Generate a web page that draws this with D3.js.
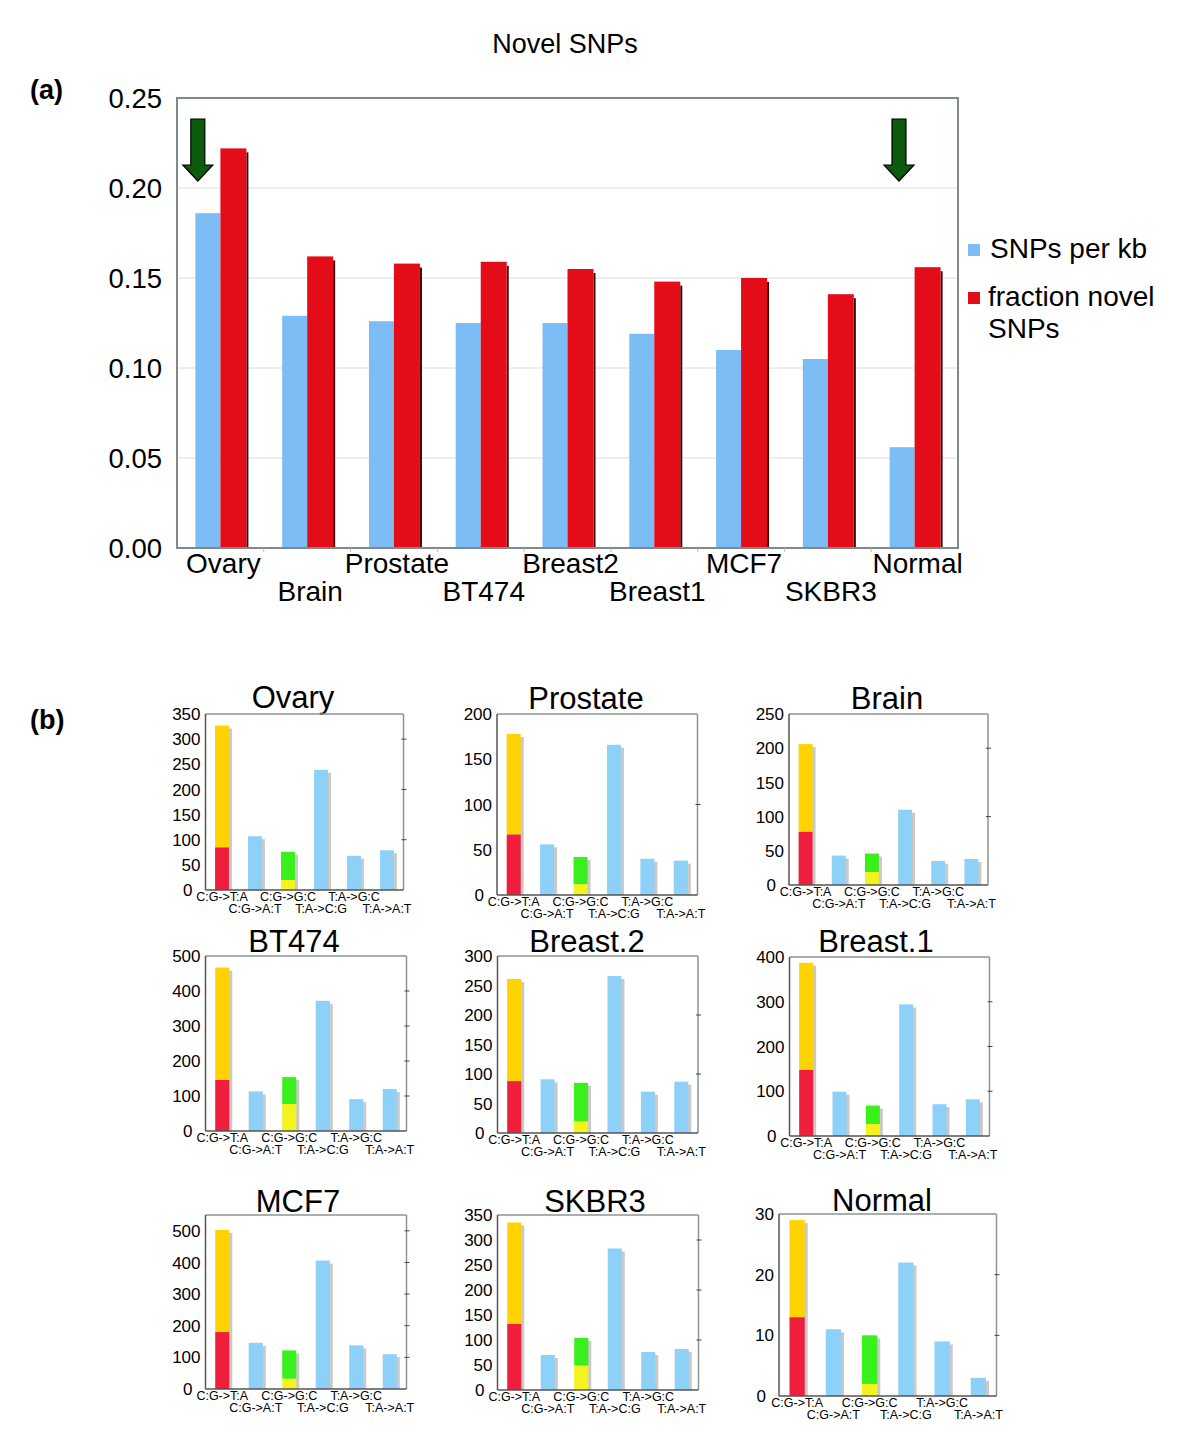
<!DOCTYPE html>
<html><head><meta charset="utf-8">
<script src="https://cdn.jsdelivr.net/npm/d3@7"></script>
<style>body{margin:0;background:#fff;} svg{font-family:"Liberation Sans",Arial,Helvetica,sans-serif;}</style>
</head><body><svg id="c" width="1200" height="1436"></svg>
<script>
// ---------- data: panel (a) ----------
const samples = ["Ovary","Brain","Prostate","BT474","Breast2","Breast1","MCF7","SKBR3","Normal"];
const snpsPerKb = [0.186,0.129,0.126,0.125,0.125,0.119,0.110,0.105,0.056];
const fractionNovel = [0.222,0.162,0.158,0.159,0.155,0.148,0.150,0.141,0.156];
const topTicks = [0,0.05,0.10,0.15,0.20,0.25];
const topTickLabels = ["0.00","0.05","0.10","0.15","0.20","0.25"];
const arrowSamples = ["Ovary","Normal"];
const legendLabels = ["SNPs per kb","fraction novel SNPs"];

// ---------- data: panel (b) ----------
const mutationTypes = ["C:G->T:A","C:G->A:T","C:G->G:C","T:A->C:G","T:A->G:C","T:A->A:T"];
const panelNames = ["Ovary","Prostate","Brain","BT474","Breast.2","Breast.1","MCF7","SKBR3","Normal"];
const panelTotals = [
  [327,107,76,239,68,79],
  [178,56,42,166,40,38],
  [206,43,46,110,35,38],
  [467,113,154,372,91,120],
  [261,91,85,266,70,87],
  [387,99,68,294,71,82],
  [503,146,122,406,138,110],
  [335,70,104,283,76,82],
  [29,11,10,22,9,3]
];
const lowerCT = [85,67,78,146,88,148,180,132,13];   // red part of C:G->T:A
const lowerCG = [20,12,19,77,20,27,33,49,2];        // yellow part of C:G->G:C
const panelMax = [350,200,250,500,300,400,550,350,30];
const panelTickStep = [50,50,50,100,50,100,100,50,10];
const panelRightStep = [100,100,100,100,100,100,100,100,10];

// ---------- drawing ----------
const svg = d3.select("#c");
const C = {blue:"#7cbdf6", red:"#e50c19", lblue:"#8dd0f8", pred:"#f01e3c", orange:"#ffd300",
           green:"#3af01c", yellow:"#f3f31e", shadow:"#c9c9c9", arrow:"#0b5a0e"};

svg.append("text").attr("x",565).attr("y",53).attr("text-anchor","middle")
  .attr("font-size",27).text("Novel SNPs");
svg.append("text").attr("x",30).attr("y",99).attr("font-size",27).attr("font-weight","bold").text("(a)");
svg.append("text").attr("x",30).attr("y",729).attr("font-size",27).attr("font-weight","bold").text("(b)");

// panel (a)
const A = {x0:177, x1:958, y0:98, y1:548};
const xa = d3.scaleBand().domain(samples).range([A.x0, A.x1]);
const ya = d3.scaleLinear().domain([0,0.25]).range([A.y1, A.y0]);
const ga = svg.append("g");
ga.selectAll("line.grid").data(topTicks.slice(1,-1)).join("line")
  .attr("x1",A.x0).attr("x2",A.x1).attr("y1",d=>ya(d)).attr("y2",d=>ya(d))
  .attr("stroke","#dcdcdc").attr("stroke-width",1);
ga.selectAll("text.yt").data(topTicks).join("text")
  .attr("x",A.x0-15).attr("y",d=>ya(d)).attr("dy","0.36em").attr("text-anchor","end")
  .attr("font-size",27.5).text((d,i)=>topTickLabels[i]);
const bwA = xa.bandwidth();
ga.selectAll("rect.b").data(samples).join("rect")
  .attr("x",d=>xa(d)+bwA/2-25).attr("width",25)
  .attr("y",(d,i)=>ya(snpsPerKb[i])).attr("height",(d,i)=>ya(0)-ya(snpsPerKb[i]))
  .attr("fill",C.blue);
ga.selectAll("rect.rs").data(samples).join("rect")
  .attr("x",d=>xa(d)+bwA/2+26).attr("width",2)
  .attr("y",(d,i)=>ya(fractionNovel[i])+4).attr("height",(d,i)=>ya(0)-ya(fractionNovel[i])-4)
  .attr("fill","#3a0000");
ga.selectAll("rect.r").data(samples).join("rect")
  .attr("x",d=>xa(d)+bwA/2).attr("width",26)
  .attr("y",(d,i)=>ya(fractionNovel[i])).attr("height",(d,i)=>ya(0)-ya(fractionNovel[i]))
  .attr("fill",C.red);
ga.append("rect").attr("x",A.x0).attr("y",A.y0).attr("width",A.x1-A.x0).attr("height",A.y1-A.y0)
  .attr("fill","none").attr("stroke","#7d8b8b").attr("stroke-width",2);
ga.selectAll("line.xt").data(samples.slice(1)).join("line")
  .attr("x1",d=>xa(d)).attr("x2",d=>xa(d)).attr("y1",A.y1).attr("y2",A.y1+4)
  .attr("stroke","#bbbbbb");
ga.selectAll("text.xl").data(samples).join("text")
  .attr("x",d=>xa(d)+bwA/2+3).attr("y",(d,i)=> i%2===0 ? 573 : 601)
  .attr("text-anchor","middle").attr("font-size",28).text(d=>d);
const arrowOff = [0.24, 0.32];
arrowSamples.forEach((s,k)=>{
  const cx = xa(s)+bwA*arrowOff[k];
  const top=119, hs=165, tip=181, sw=7, hw=15;
  const p = [[cx-sw,top],[cx+sw,top],[cx+sw,hs],[cx+hw,hs],[cx,tip],[cx-hw,hs],[cx-sw,hs]];
  ga.append("path").attr("d","M"+p.map(q=>q.join(",")).join("L")+"Z")
    .attr("fill",C.arrow).attr("stroke","#000").attr("stroke-width",1.2);
});
const legColors = [C.blue, C.red];
const lg = svg.append("g");
lg.append("rect").attr("x",968).attr("y",244).attr("width",12).attr("height",12).attr("fill",legColors[0]);
lg.append("text").attr("x",990).attr("y",258).attr("font-size",28).text(legendLabels[0]);
lg.append("rect").attr("x",968).attr("y",292).attr("width",12).attr("height",12).attr("fill",legColors[1]);
const words = legendLabels[1].split(" ");
lg.append("text").attr("x",988).attr("y",306).attr("font-size",28).text(words.slice(0,2).join(" "));
lg.append("text").attr("x",988).attr("y",338).attr("font-size",28).text(words.slice(2).join(" "));

// panel (b)
const boxes = [
  {x0:205.5,x1:403.5,y0:714,y1:890,tx:293,ty:708},
  {x0:497,x1:697.5,y0:714,y1:895,tx:586,ty:709},
  {x0:789,x1:988,y0:714,y1:885,tx:887,ty:709},
  {x0:205.5,x1:406.5,y0:956,y1:1131,tx:294,ty:952},
  {x0:497.5,x1:698,y0:956,y1:1133,tx:587,ty:952},
  {x0:789.5,x1:989.5,y0:957,y1:1136,tx:876,ty:952},
  {x0:205.5,x1:406.5,y0:1215,y1:1389,tx:298,ty:1212},
  {x0:497.5,x1:698.5,y0:1215,y1:1390,tx:595,ty:1212},
  {x0:779,x1:996.5,y0:1214,y1:1396,tx:882,ty:1211}
];
panelNames.forEach((name,p)=>{
  const b = boxes[p];
  const g = svg.append("g");
  const x = d3.scaleBand().domain(mutationTypes).range([b.x0,b.x1]);
  const y = d3.scaleLinear().domain([0,panelMax[p]]).range([b.y1,b.y0]);
  const bw = x.bandwidth(), w = bw*0.42;
  g.append("text").attr("x",b.tx).attr("y",b.ty).attr("text-anchor","middle")
    .attr("font-size",31).text(name);
  const vals = panelTotals[p];
  g.selectAll("rect.s").data(mutationTypes).join("rect")
    .attr("x",d=>x(d)+bw/2-w/2+3).attr("width",w)
    .attr("y",(d,i)=>y(vals[i])+3).attr("height",(d,i)=>Math.max(0,b.y1-y(vals[i])-3))
    .attr("fill",C.shadow);
  const segs = [];
  mutationTypes.forEach((m,i)=>{
    if(i===0){ segs.push({m,lo:0,hi:lowerCT[p],c:C.pred}); segs.push({m,lo:lowerCT[p],hi:vals[i],c:C.orange}); }
    else if(i===2){ segs.push({m,lo:0,hi:lowerCG[p],c:C.yellow}); segs.push({m,lo:lowerCG[p],hi:vals[i],c:C.green}); }
    else segs.push({m,lo:0,hi:vals[i],c:C.lblue});
  });
  g.selectAll("rect.b").data(segs).join("rect")
    .attr("x",d=>x(d.m)+bw/2-w/2).attr("width",w)
    .attr("y",d=>y(d.hi)).attr("height",d=>y(d.lo)-y(d.hi)).attr("fill",d=>d.c);
  g.append("line").attr("x1",b.x0).attr("x2",b.x1).attr("y1",b.y0).attr("y2",b.y0).attr("stroke","#8c9494").attr("stroke-width",1.5);
  g.append("line").attr("x1",b.x1).attr("x2",b.x1).attr("y1",b.y0).attr("y2",b.y1).attr("stroke","#8c9494").attr("stroke-width",1.5);
  g.append("line").attr("x1",b.x0).attr("x2",b.x0).attr("y1",b.y0).attr("y2",b.y1).attr("stroke","#555").attr("stroke-width",1.5);
  g.append("line").attr("x1",b.x0).attr("x2",b.x1).attr("y1",b.y1).attr("y2",b.y1).attr("stroke","#555").attr("stroke-width",1.5);
  const rt = d3.range(panelRightStep[p], panelMax[p], panelRightStep[p]);
  g.selectAll("line.rt").data(rt).join("line")
    .attr("x1",b.x1-2).attr("x2",b.x1+3).attr("y1",d=>y(d)).attr("y2",d=>y(d))
    .attr("stroke","#444").attr("stroke-width",1);
  const lt = d3.range(0, panelMax[p]+1e-9, panelTickStep[p]);
  g.selectAll("text.lt").data(lt).join("text")
    .attr("x",d=> d===0 ? b.x0-13 : b.x0-5).attr("y",d=>y(d)).attr("dy","0.36em")
    .attr("text-anchor","end").attr("font-size",17).text(d=>d);
  g.selectAll("text.cl").data(mutationTypes).join("text")
    .attr("x",d=>x(d)+bw/2).attr("y",(d,i)=> b.y1 + (i%2===0 ? 11 : 23))
    .attr("text-anchor","middle").attr("font-size",12.5).text(d=>d);
});
</script>
</body></html>
